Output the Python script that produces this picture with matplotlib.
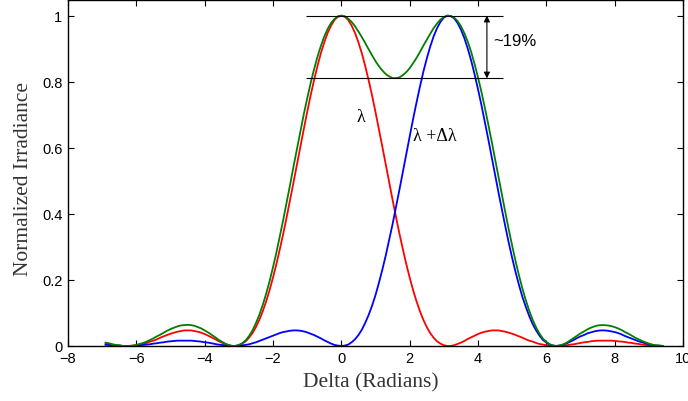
import numpy as np
import matplotlib
matplotlib.use('Agg')
import matplotlib.pyplot as plt

# phase difference (radians), sampled every 0.1
delta = np.round(np.arange(-6.9, 9.45, 0.1), 1)

# normalized irradiance, in thousandths
red_lambda = [7, 5, 4, 2, 1, 0, 0, 0, 1, 2,
              4, 6, 9, 13, 16, 20, 25, 29, 33, 37,
              40, 43, 45, 47, 47, 47, 45, 43, 40, 36,
              31, 26, 21, 15, 10, 6, 2, 0, 0, 2,
              7, 14, 25, 39, 57, 79, 105, 135, 169, 207,
              248, 293, 340, 390, 442, 495, 549, 603, 656, 708,
              758, 804, 847, 886, 919, 948, 970, 987, 997, 1000,
              997, 987, 970, 948, 919, 886, 847, 804, 758, 708,
              656, 603, 549, 495, 442, 390, 340, 293, 248, 207,
              169, 135, 105, 79, 57, 39, 25, 14, 7, 2,
              0, 0, 2, 6, 10, 15, 21, 26, 31, 36,
              40, 43, 45, 47, 47, 47, 45, 43, 40, 37,
              33, 29, 25, 20, 16, 13, 9, 6, 4, 2,
              1, 0, 0, 0, 1, 2, 4, 5, 7, 9,
              11, 12, 14, 15, 16, 16, 16, 16, 16, 15,
              14, 13, 12, 10, 9, 7, 6, 4, 3, 2,
              1, 1, 0, 0]

blue_shifted = [3, 3, 1, 1, 1, 0, 0, 0, 0, 1,
                2, 3, 4, 5, 7, 8, 10, 11, 13, 14,
                15, 16, 16, 16, 16, 16, 15, 14, 13, 11,
                10, 8, 6, 4, 3, 2, 1, 0, 0, 1,
                2, 3, 5, 8, 11, 15, 19, 23, 27, 31,
                35, 39, 42, 44, 46, 47, 47, 46, 44, 41,
                37, 33, 28, 23, 17, 12, 7, 3, 1, 0,
                1, 4, 11, 20, 33, 49, 70, 94, 122, 154,
                191, 231, 274, 321, 369, 421, 473, 527, 581, 634,
                687, 737, 785, 830, 870, 906, 937, 962, 981, 994,
                1000, 999, 992, 978, 958, 932, 900, 864, 822, 777,
                729, 678, 626, 572, 518, 464, 412, 361, 312, 266,
                223, 184, 148, 118, 90, 66, 47, 31, 18, 10,
                4, 1, 0, 1, 4, 8, 13, 18, 24, 29,
                33, 38, 41, 44, 46, 47, 47, 46, 44, 42,
                39, 35, 30, 26, 22, 18, 14, 11, 8, 5,
                3, 1, 1, 0]

green_total = [10, 8, 5, 3, 2, 0, 0, 0, 1, 3,
               6, 9, 13, 18, 23, 29, 34, 40, 46, 51,
               55, 59, 62, 63, 64, 63, 61, 57, 53, 47,
               41, 34, 27, 19, 13, 7, 3, 0, 0, 3,
               8, 17, 30, 47, 69, 94, 124, 158, 196, 238,
               283, 332, 382, 435, 488, 543, 596, 649, 701, 749,
               795, 837, 875, 908, 937, 960, 978, 990, 998, 1000,
               998, 991, 981, 968, 952, 935, 917, 898, 880, 862,
               847, 834, 823, 816, 811, 811, 813, 820, 829, 841,
               856, 872, 890, 909, 927, 945, 962, 976, 988, 996,
               1000, 999, 994, 984, 968, 947, 921, 890, 853, 813,
               769, 721, 671, 619, 565, 511, 457, 404, 352, 303,
               256, 213, 173, 138, 106, 79, 56, 37, 22, 12,
               5, 1, 0, 2, 5, 10, 17, 24, 31, 38,
               44, 50, 55, 59, 62, 63, 63, 62, 60, 57,
               53, 48, 42, 37, 31, 25, 20, 15, 11, 7,
               4, 2, 1, 0]

xticks = [-8, -6, -4, -2, 0, 2, 4, 6, 8, 10]
yticks = [0, 0.2, 0.4, 0.6, 0.8, 1]
ytick_labels = ['0', '0.2', '0.4', '0.6', '0.8', '1']

# dip markers
peak_level = 1.0
dip_level = 0.81

plt.rcParams['font.family'] = 'Liberation Sans'

fig = plt.figure(figsize=(6.88, 4.02), dpi=100)
ax = fig.add_axes([0.0988, 0.137, 0.894, 0.861])

ax.plot(delta, np.array(red_lambda) / 1000., color=(1, 0, 0), lw=1.3)
ax.plot(delta, np.array(blue_shifted) / 1000., color=(0, 0, 1), lw=1.3)
ax.plot(delta, np.array(green_total) / 1000., color=(0, 0.5, 0), lw=1.3)

ax.set_xlim(-8, 10)
ax.set_ylim(0, 1.048)
ax.set_xticks(xticks)
ax.set_yticks(yticks)
ax.set_yticklabels(ytick_labels)
ax.tick_params(direction='in', top=True, right=True, length=4, width=0.8,
               labelsize=10.5, pad=4, colors='black')
for sp in ax.spines.values():
    sp.set_linewidth(1.0)

# annotation of the ~19% dip
ax.hlines([peak_level, dip_level], -1.03, 4.73, color='black', lw=0.8)
ax.annotate('', xy=(4.26, peak_level), xytext=(4.26, dip_level),
            arrowprops=dict(arrowstyle='<|-|>', color='black', lw=0.8,
                            mutation_scale=9, shrinkA=0, shrinkB=0))
ax.text(4.44, 0.925, '~19%', fontsize=12, va='center', ha='left')
ax.text(0.57, 0.694, 'λ', family='Liberation Serif', fontsize=13,
        ha='center', va='center')
ax.text(2.10, 0.636, 'λ +Δλ', family='Liberation Serif', fontsize=13,
        ha='left', va='center')

fig.text(371 / 688., 1 - 383 / 402., 'Delta (Radians)', family='Liberation Serif',
         fontsize=15.5, color='#333333', ha='center', va='center')
fig.text(24 / 688., 1 - 179 / 402., 'Normalized Irradiance', family='Liberation Serif',
         fontsize=15.5, color='#333333', ha='center', va='center', rotation=90)

plt.savefig('out.png', dpi=100, facecolor='white')
